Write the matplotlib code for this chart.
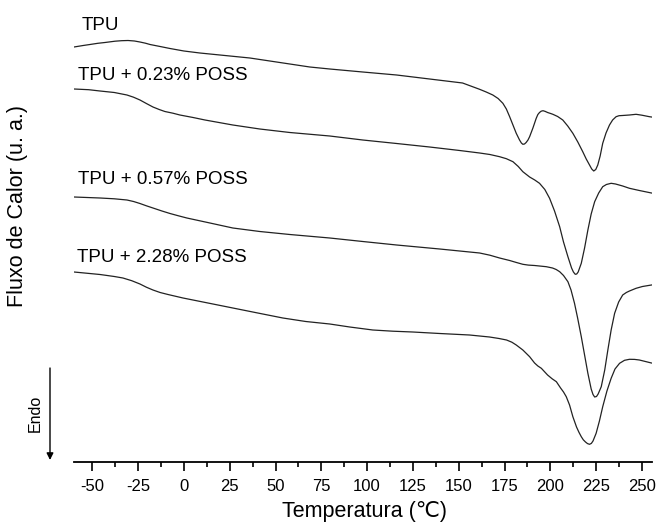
import matplotlib
matplotlib.use("Agg")
import matplotlib.pyplot as plt
from matplotlib.ticker import MultipleLocator

plt.rcParams['font.family'] = ['Liberation Sans', 'DejaVu Sans']

# ---- data (temperature in degC, heat flow in arbitrary units) ----
t_tpu = [-60.0, -55.0, -51.3, -47.0, -43.1, -37.6, -34.0, -30.5, -27.0, -24.0, -21.0, -18.5,
         -13.0, -7.6, 0.0, 8.7, 25.1, 36.0, 46.9, 57.8, 68.7, 79.6, 97.6, 116.1, 134.1, 152.1,
         161.4, 165.0, 168.6, 171.5, 174.1, 176.0, 177.8, 179.6, 181.4, 183.2, 184.2, 185.0,
         185.9, 186.8, 187.8, 188.7, 190.5, 192.3, 193.2, 194.1, 195.0, 196.0, 197.2, 198.5,
         200.0, 201.4, 204.0, 206.8, 209.5, 212.3, 215.0, 217.7, 219.6, 221.4, 222.6, 223.7,
         224.8, 225.9, 227.2, 228.6, 230.4, 232.3, 234.0, 235.9, 237.5, 239.4, 243.2, 246.8,
         250.0, 254.1, 255.2]
y_tpu = [415, 416.5, 417.5, 418.7, 419.5, 420.8, 421.3, 421.5, 421, 420, 418.8, 417.5,
         415.5, 413.5, 411, 409, 406, 404, 401, 398, 395, 393, 390, 387, 383, 379,
         372.7, 370, 367, 363.5, 358.7, 353, 345.3, 337, 328.7, 322, 319, 317.7,
         318, 319.5, 322, 325.3, 334, 343.7, 347.5, 349.5, 350.8, 351.3, 350.6, 349.5,
         348.6, 347.7, 345.5, 342, 336, 328.7, 320, 310.3, 303, 297, 293, 291,
         292.5, 297, 306, 318.7, 329, 337, 342, 345.3, 346.3, 346.5, 347, 347.7,
         346.8, 345.3, 345]

t_023 = [-60.0, -52.0, -45.8, -38.0, -31.1, -27.5, -24.0, -20.5, -16.9, -13.5, -10.4, -6.0,
         -2.2, 5.0, 11.5, 26.7, 41.4, 57.8, 79.6, 97.6, 116.1, 134.1, 150.5, 161.4, 167.0,
         172.3, 176.0, 179.6, 182.5, 185.0, 188.7, 191.5, 194.1, 197.0, 199.6, 202.3, 205.1,
         207.2, 209.6, 211.6, 212.6, 213.6, 214.4, 215.2, 216.9, 218.7, 220.5, 222.3, 224.2,
         226.4, 228.6, 230.6, 233.2, 235.6, 239.5, 243.2, 248.6, 255.2]
y_023 = [373, 372.3, 371, 369.5, 367, 364.8, 362, 358.5, 355, 352.5, 350.5, 348.8,
         347, 344.5, 342, 337, 333, 329.5, 326, 322, 318.5, 315, 311.5, 309, 307.5,
         305.3, 303.3, 300.3, 295.5, 290.3, 285, 282, 278.7, 272.5, 263.7, 251, 235.3,
         220, 205.3, 194, 190, 187.7, 188, 190, 198.7, 214, 232, 248, 260.3,
         269, 275.3, 277.5, 278.7, 278, 276, 273.7, 271.5, 269]

t_057 = [-60.0, -45.8, -38.0, -31.1, -27.5, -24.0, -20.5, -16.9, -12.0, -7.6, -3.0, 1.6,
         14.2, 26.7, 41.4, 57.8, 79.6, 97.6, 116.1, 139.6, 161.4, 167.0, 172.3, 177.8, 181.5,
         185.0, 188.0, 191.4, 197.8, 201.2, 203.2, 205.1, 207.2, 209.6, 211.3, 213.2, 214.9,
         216.9, 218.7, 220.5, 222.3, 223.3, 224.2, 225.2, 226.1, 227.8, 229.7, 231.4, 233.2,
         235.1, 237.3, 239.5, 241.5, 243.2, 246.8, 250.3, 255.2]
y_057 = [265, 264, 263.2, 262, 260.5, 258.5, 256.2, 254, 251, 248.5, 246.2, 244,
         239, 234, 230.5, 227.5, 224, 220.5, 217, 213, 209, 206.8, 204, 201.5, 199.5,
         197.7, 196.9, 196.5, 195.3, 194, 192.5, 190.3, 186.5, 180.3, 172, 158.7, 144,
         125.3, 107, 88.7, 73, 67.5, 65, 65.5, 68, 75.3, 92, 112, 132,
         148.7, 160, 167, 169.5, 171, 173.7, 175.5, 177]

t_228 = [-60.0, -45.8, -38.0, -33.3, -28.5, -24.0, -20.5, -16.9, -13.0, -8.7, -0.5, 13.1,
         26.7, 40.3, 54.0, 66.5, 79.6, 90.5, 103.1, 114.0, 124.9, 139.6, 155.9, 166.8, 172.0,
         176.1, 179.0, 181.4, 185.0, 188.7, 191.4, 193.2, 195.1, 198.5, 201.0, 203.3, 205.6,
         207.2, 208.7, 210.5, 212.3, 214.3, 215.6, 216.9, 218.0, 219.2, 220.3, 221.4, 222.4,
         223.3, 225.0, 226.8, 228.6, 230.9, 233.2, 235.3, 237.8, 240.5, 243.2, 246.0, 248.6,
         255.2]
y_228 = [190, 187.5, 185.5, 184, 181.3, 178, 174.8, 172, 169.5, 167.5, 164, 159,
         154, 149, 144, 140.5, 138, 135, 132, 130.8, 130, 128.5, 127, 125, 123.5,
         122, 119.8, 117, 112, 105.3, 99, 96, 93.7, 87, 83.2, 80.3, 74,
         70, 65.3, 57, 45.3, 35, 29.8, 25.3, 22.2, 20, 18.4, 17.7, 18.6,
         21, 28.7, 41, 55.3, 71, 83.7, 93, 98.7, 101.7, 102.7, 102.6, 102,
         99]

labels = ["TPU", "TPU + 0.23% POSS", "TPU + 0.57% POSS", "TPU + 2.28% POSS"]
label_x = [-55.8, -57.6, -57.9, -58.3]
label_y = [437, 387, 282, 205]

xticks = [-50, -25, 0, 25, 50, 75, 100, 125, 150, 175, 200, 225, 250]

# ---- figure ----
W, H = 657, 529
fig = plt.figure(figsize=(W / 100, H / 100), dpi=100)
ax = fig.add_axes([74 / W, (H - 462) / H, (652 - 74) / W, 462 / H])

line_color = "#222222"
for t, y in [(t_tpu, y_tpu), (t_023, y_023), (t_057, y_057), (t_228, y_228)]:
    ax.plot(t, y, color=line_color, lw=0.9, solid_joinstyle="round")

for lab, lx, ly in zip(labels, label_x, label_y):
    ax.text(lx, ly, lab, fontsize=13.5, ha="left", va="center", color="black")

ax.set_xlim(-60, 255.5)
ax.set_ylim(0, 462)

for s in ["left", "right", "top"]:
    ax.spines[s].set_visible(False)
ax.spines["bottom"].set_linewidth(1.3)
ax.set_yticks([])
ax.set_xticks(xticks)
ax.set_xticklabels([str(v) for v in xticks])
ax.xaxis.set_minor_locator(MultipleLocator(12.5))
ax.tick_params(axis="x", which="major", direction="out", length=6.5, width=1.2,
               labelsize=12, pad=6)
ax.tick_params(axis="x", which="minor", direction="out", length=3.5, width=1.2)

fig.text(365 / W, 1 - 512 / H, "Temperatura (℃)", fontsize=15.5, ha="center", va="center")
fig.text(18 / W, 1 - 206 / H, "Fluxo de Calor (u. a.)", fontsize=15.5,
         rotation=90, ha="center", va="center")

# Endo arrow
fig.text(35 / W, 1 - 413 / H, "Endo", fontsize=11.5, rotation=90, ha="center", va="center")
ax.annotate("", xy=(50 / W, 1 - 460 / H), xytext=(50 / W, 1 - 368 / H),
            xycoords="figure fraction", textcoords="figure fraction",
            arrowprops=dict(arrowstyle="-|>", color="black", lw=1.0,
                            mutation_scale=10, shrinkA=0, shrinkB=0))

fig.savefig("out.png", dpi=100)
